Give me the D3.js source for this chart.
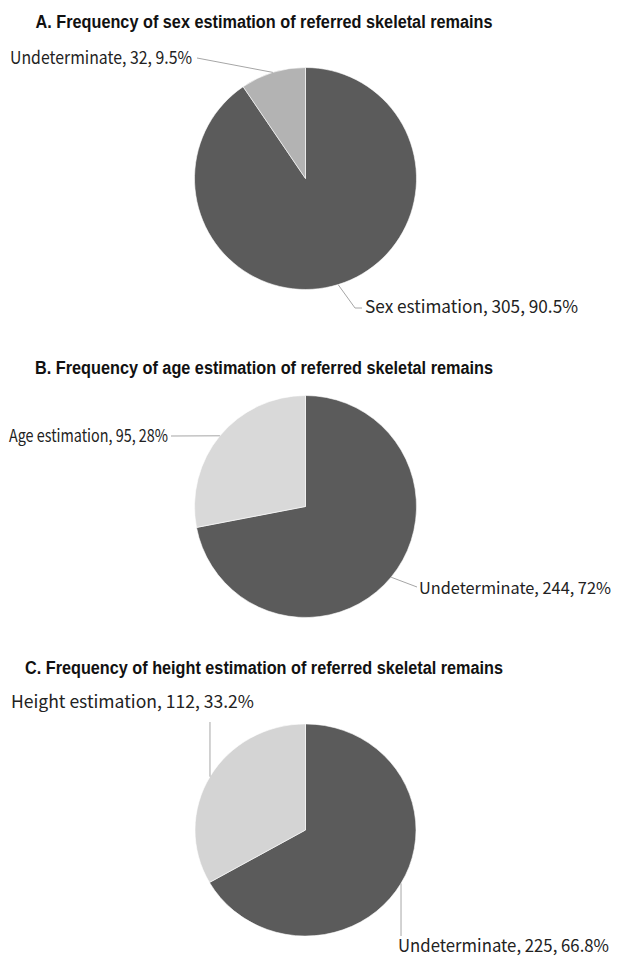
<!DOCTYPE html>
<html>
<head>
<meta charset="utf-8">
<script src="https://cdn.jsdelivr.net/npm/d3@7"></script>
<style>
  body { margin: 0; background: #fff; }
  .title { font-family: "Liberation Sans", Arial, sans-serif; font-weight: bold; font-size: 18px; fill: #111; }
  .lbl { font-family: "Noto Sans CJK KR", "Noto Sans", sans-serif; font-size: 17.5px; fill: #222; }
</style>
</head>
<body>
<div id="chart"></div>
<script>
// chart data
const chartTitles = [
  "A. Frequency of sex estimation of referred skeletal remains",
  "B. Frequency of age estimation of referred skeletal remains",
  "C. Frequency of height estimation of referred skeletal remains"
];

const sexCategories = ["Sex estimation", "Undeterminate"];
const sexCounts = [305, 32];
const sexPercents = ["90.5%", "9.5%"];

const ageCategories = ["Undeterminate", "Age estimation"];
const ageCounts = [244, 95];
const agePercents = ["72%", "28%"];

const heightCategories = ["Undeterminate", "Height estimation"];
const heightCounts = [225, 112];
const heightPercents = ["66.8%", "33.2%"];

var width = 618, height = 957;

var svg = d3.select("#chart").append("svg")
    .attr("width", width)
    .attr("height", height);

// layout of the three panels (label spots were placed by hand in the original)
var panels = [
  {title: chartTitles[0], titleY: 28, titleW: 457, cx: 305.5, cy: 178.5, r: 111, sy: 1,
   cats: sexCategories, counts: sexCounts, pcts: sexPercents,
   colors: ["#5b5b5b", "#b3b3b3"],
   labels: [
     {x: 365, y: 313, w: 213, elbow: [[355, 308], [362, 308]]},
     {x: 10, y: 64, w: 182, elbow: [[197, 58]]}
   ]},
  {title: chartTitles[1], titleY: 374, titleW: 458, cx: 305.5, cy: 506.5, r: 111, sy: 1,
   cats: ageCategories, counts: ageCounts, pcts: agePercents,
   colors: ["#5b5b5b", "#d9d9d9"],
   labels: [
     {x: 419, y: 594, w: 192, elbow: [[417, 587]]},
     {x: 9, y: 442, w: 159, elbow: [[171, 436]]}
   ]},
  {title: chartTitles[2], titleY: 674, titleW: 478, cx: 305.5, cy: 830, r: 110.5, sy: 0.96,
   cats: heightCategories, counts: heightCounts, pcts: heightPercents,
   colors: ["#5b5b5b", "#d4d4d4"],
   labels: [
     {x: 398, y: 952, w: 211, elbow: [[400, 936]], vertical: true},
     {x: 11, y: 708, w: 243, elbow: [[210, 722]], vertical: true}
   ]}
];

var pie = d3.pie().sort(null).value(function(d) { return d; });

panels.forEach(function(p) {
    svg.append("text")
        .attr("class", "title")
        .attr("x", 264 - p.titleW / 2)
        .attr("y", p.titleY)
        .attr("textLength", p.titleW)
        .attr("lengthAdjust", "spacingAndGlyphs")
        .text(p.title);

    var arcs = pie(p.counts);
    var arc = d3.arc().innerRadius(0).outerRadius(p.r);

    var g = svg.append("g")
        .attr("transform", "translate(" + p.cx + "," + p.cy + ") scale(1," + p.sy + ")");

    g.selectAll("path").data(arcs)
        .enter().append("path")
        .attr("d", arc)
        .attr("fill", function(d, i) { return p.colors[i]; })
        .attr("stroke", "#fff")
        .attr("stroke-width", 0.6);

    arcs.forEach(function(a, i) {
        var mid = (a.startAngle + a.endAngle) / 2;
        var ex = p.cx + p.r * Math.sin(mid);
        var ey = p.cy - p.r * Math.cos(mid) * p.sy;
        var lab = p.labels[i];
        var pts = [[ex, ey]].concat(lab.elbow);
        if (lab.vertical) pts = [[ex, ey], [ex, lab.elbow[0][1]]];
        svg.append("path")
            .datum(pts)
            .attr("fill", "none")
            .attr("stroke", "#a6a6a6")
            .attr("stroke-width", 1)
            .attr("d", d3.line());

        var t = svg.append("text")
            .attr("class", "lbl")
            .attr("x", lab.x)
            .attr("y", lab.y)
            .text(p.cats[i] + ", " + p.counts[i] + ", " + p.pcts[i]);

        // shrink font if the natural width would run past the right edge
        var natural = t.node().getComputedTextLength();
        if (lab.x + natural > width - 4) {
            t.style("font-size", (17.5 * (width - 4 - lab.x) / natural) + "px");
        }
        t.attr("textLength", lab.w)
            .attr("lengthAdjust", "spacingAndGlyphs");
    });
});
</script>
</body>
</html>
